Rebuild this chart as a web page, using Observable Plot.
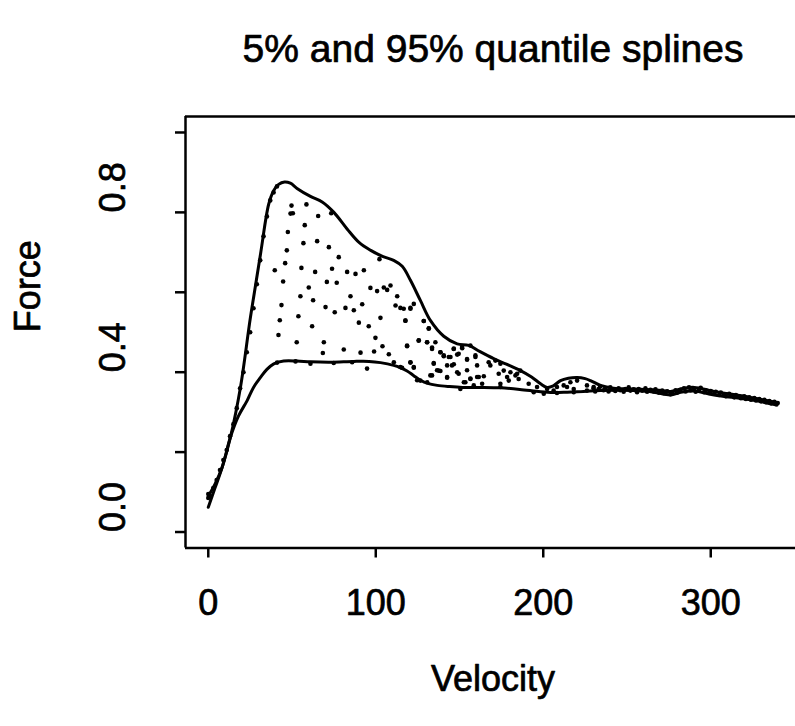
<!DOCTYPE html>
<html><head><meta charset="utf-8">
<script src="https://cdn.jsdelivr.net/npm/d3@7"></script>
<script src="https://cdn.jsdelivr.net/npm/@observablehq/plot@0.6"></script>
<style>body{margin:0;background:#fff}</style>
</head><body><div id="chart"></div>
<script>
const titleText = "5% and 95% quantile splines";
const xLabel = "Velocity";
const yLabel = "Force";
const xTicks = [0, 100, 200, 300];
const xTickLabels = ["0", "100", "200", "300"];
const yTicks = [0, 0.2, 0.4, 0.6, 0.8, 1.0];
const yLabelTicks = [0, 0.4, 0.8];
const yTickLabels = ["0.0", "0.4", "0.8"];
const xDomain = [-13.6, 350.6];
const yDomain = [-0.04, 1.04];

// 95% quantile spline [velocity, force]
const upperSpline = [
  [0,0.062],[4,0.11],[8.3,0.162],[13.2,0.237],[19.2,0.362],[25.2,0.538],[31.2,0.696],
  [36.1,0.821],[39.1,0.855],[42,0.870],[45.5,0.876],[49,0.873],[53,0.860],[61,0.840],
  [68,0.826],[75,0.800],[83,0.758],[90,0.725],[97,0.705],[104,0.690],[110.7,0.680],
  [115.8,0.665],[120.7,0.630],[126.7,0.579],[132.7,0.529],[140.6,0.490],[148.6,0.471],
  [155.5,0.467],[162,0.452],[170.4,0.434],[178,0.420],[186.4,0.404],[193,0.388],
  [198.4,0.371],[202.3,0.362],[206,0.366],[210.3,0.379],[215,0.385],[220.2,0.387],
  [225,0.384],[228.2,0.379],[234.2,0.367],[242,0.360],[254,0.358],[266,0.356],
  [276,0.352],[282,0.358],[290,0.362],[302,0.352],[323.7,0.337],[339.6,0.324]
];
// 5% quantile spline
const lowerSpline = [
  [0,0.09],[4,0.12],[8.3,0.162],[13.2,0.237],[18,0.29],[23.2,0.329],[27,0.362],
  [31.2,0.387],[35,0.407],[39.1,0.421],[45,0.428],[53,0.428],[61,0.426],[73,0.425],
  [87,0.427],[96,0.427],[102.8,0.424],[110.7,0.417],[114.8,0.411],[118.7,0.403],
  [122.5,0.392],[126.7,0.380],[131,0.372],[136.7,0.367],[144,0.364],[152,0.362],
  [162.5,0.362],[174.5,0.361],[186,0.357],[198.4,0.351],[206,0.349],[214.3,0.350],
  [224,0.352],[234.2,0.354],[242,0.355],[254,0.354],[266,0.350],[276,0.343],
  [282,0.350],[290,0.353],[302,0.343],[323.7,0.331],[339.6,0.318]
];
// observations
const observations = [
  [0,0.085],[0,0.095],[1,0.09],[3,0.11],[5,0.13],[7,0.155],[9,0.18],[11,0.205],[13,0.24],
  [15,0.27],[17,0.31],[19,0.36],[21,0.40],[23,0.45],[25,0.50],[27,0.56],[29,0.62],[31,0.68],
  [33,0.74],[35,0.79],[37,0.83],[39,0.85],[41,0.865],
  [49.7,0.817],[58.6,0.820],[49.1,0.797],[50.5,0.798],[65.6,0.791],[73.4,0.798],[57.6,0.768],
  [47.5,0.751],[65.0,0.728],[56.8,0.723],[72.0,0.713],[46.9,0.705],[77.9,0.688],[102.2,0.683],
  [45.9,0.673],[39.7,0.655],[55.6,0.661],[63.8,0.651],[73.9,0.659],[82.9,0.651],[87.9,0.646],
  [92.9,0.655],[44.7,0.627],[70.8,0.626],[76.7,0.624],[60.0,0.612],[96.8,0.611],[100.8,0.603],
  [104.8,0.612],[106.8,0.606],[108.8,0.617],[55.0,0.590],[62.6,0.580],[84.9,0.590],[112.8,0.590],
  [43.7,0.568],[70.0,0.563],[75.5,0.550],[81.9,0.561],[86.9,0.555],[91.9,0.570],[111.8,0.567],
  [114.7,0.561],[120.7,0.561],[122.7,0.571],[42.7,0.530],[53.8,0.540],[62.0,0.515],[89.9,0.524],
  [95.8,0.515],[102.8,0.536],[117.7,0.529],[128.7,0.528],[131.7,0.510],[41.9,0.493],[99.8,0.486],
  [52.8,0.475],[69.0,0.475],[125.7,0.480],[130.7,0.475],[135.6,0.475],[80.9,0.457],[68.4,0.448],
  [90.9,0.449],[99.0,0.452],[104.0,0.465],[107.8,0.445],[118.7,0.465],[133.6,0.462],[138.6,0.450],
  [140.6,0.440],[143.6,0.438],[146.6,0.459],[148.6,0.444],[151.6,0.460],[156.5,0.467],[154.5,0.431],
  [159.5,0.442],[110.8,0.425],[120.7,0.424],[114.7,0.413],[122.7,0.411],[94.8,0.409],[134.6,0.421],
  [136.6,0.405],[138.6,0.403],[142.6,0.417],[146.6,0.420],[148.6,0.400],[154.5,0.405],[160.5,0.417],
  [124.7,0.380],[130.7,0.375],[142.6,0.386],[152.6,0.375],[156.5,0.384],[160.5,0.388],[132.6,0.392],
  [41.1,0.424],[52.1,0.427],[61.0,0.421],[74.9,0.423],[85.9,0.425],
  [116.7,0.559],[120.7,0.559],[117.7,0.529],[128.6,0.528],[131.6,0.509],[118.7,0.467],[125.6,0.479],
  [130.6,0.475],[133.6,0.458],[120.7,0.425],[122.7,0.413],[115.7,0.411],[138.6,0.450],[140.6,0.442],
  [146.5,0.458],[151.5,0.463],[149.5,0.446],[154.5,0.433],[159.5,0.438],[144.6,0.438],[134.6,0.423],
  [137.6,0.404],[145.5,0.417],[149.5,0.396],[142.6,0.388],[133.6,0.392],[156.5,0.383],[161.5,0.388],
  [164.5,0.390],[153.5,0.375],[158.5,0.367],[163.5,0.371],[167.4,0.425],[171.4,0.429],[174.4,0.421],
  [168.4,0.417],[176.4,0.404],[180.4,0.400],[183.4,0.392],[178.4,0.388],[185.3,0.383],[184.4,0.396],
  [186.3,0.404],[173.4,0.396],[179.4,0.379],[174.4,0.371],[191.3,0.371],[196.3,0.363],[202.3,0.358],
  [208.2,0.363],[212.2,0.367],[216.2,0.375],[220.2,0.379],[226.1,0.367],[230.1,0.363],[214.2,0.363],
  [218.2,0.358],[206.2,0.354],[126.6,0.379],[150.5,0.358],[174.4,0.363],[194.3,0.350],[200.3,0.346],
  [208.2,0.348],[218.2,0.350],[226.1,0.354],
  [230,0.360],[231,0.352],[233,0.358],[234,0.364],[236,0.355],[237,0.360],[239,0.352],[240,0.362],
  [242,0.357],[243,0.353],[245,0.360],[246,0.355],[248,0.351],[249,0.358],[251,0.362],[252,0.354],
  [254,0.357],[256,0.350],[257,0.358],[259,0.354],[261,0.360],[262,0.351],[264,0.356],[266,0.352],
  [267,0.357],[269,0.349],[271,0.354],[272,0.348],[274,0.352],[276,0.345],[277,0.350],[279,0.355],
  [280,0.349],[282,0.356],[284,0.360],[285,0.352],[287,0.362],[288,0.355],[290,0.359],[291,0.351],
  [293,0.357],[294,0.361],[296,0.350],[297,0.355],[299,0.348],[300,0.353],[302,0.346],[303,0.351],
  [305,0.343],[306,0.349],[308,0.344],[309,0.340],[311,0.346],[312,0.341],[314,0.337],[315,0.343],
  [317,0.339],[318,0.335],[320,0.340],[321,0.333],[323,0.337],[324,0.331],[326,0.335],[327,0.329],
  [329,0.333],[330,0.327],[332,0.331],[333,0.325],[335,0.328],[336,0.322],[338,0.326],[339,0.320],
  [340,0.323]
];

const font = "'Liberation Sans', Arial, Helvetica, sans-serif";
const ink = {fill: "#000", stroke: "#000", strokeWidth: 0.7};
const chart = Plot.plot({
  width: 795, height: 726,
  marginLeft: 185, marginRight: 0, marginTop: 116, marginBottom: 178.5,
  style: {fontFamily: font, background: "#fff", color: "#000"},
  x: {domain: xDomain},
  y: {domain: yDomain},
  marks: [
    Plot.ruleX([xDomain[0]], {stroke: "#000", strokeWidth: 2.5}),
    Plot.ruleY([yDomain[0], yDomain[1]], {stroke: "#000", strokeWidth: 2.5}),
    Plot.axisY({ticks: yTicks, tickSize: 10, tickFormat: () => "", label: null, strokeWidth: 2.5}),
    Plot.axisX({ticks: xTicks, tickSize: 10, tickFormat: () => "", label: null, strokeWidth: 2.5}),
    Plot.text(yLabelTicks, {y: d => d, text: (d, i) => yTickLabels[i], frameAnchor: "left", dx: -72, rotate: -90, fontSize: 36, ...ink}),
    Plot.text(xTicks, {x: d => d, text: (d, i) => xTickLabels[i], frameAnchor: "bottom", dy: 67, fontSize: 36, ...ink}),
    Plot.text([xLabel], {frameAnchor: "bottom", dx: 2.5, dy: 143, fontSize: 36, ...ink}),
    Plot.text([yLabel], {frameAnchor: "left", dx: -157, rotate: -90, fontSize: 36, ...ink}),
    Plot.text([titleText], {frameAnchor: "top", dx: 2.5, dy: -82, fontSize: 39, ...ink}),
    Plot.dot(observations, {x: d => d[0], y: d => d[1], r: 2.3, fill: "#000"}),
    Plot.line(upperSpline, {x: d => d[0], y: d => d[1], curve: "catmull-rom", stroke: "#000", strokeWidth: 3}),
    Plot.line(lowerSpline, {x: d => d[0], y: d => d[1], curve: "catmull-rom", stroke: "#000", strokeWidth: 3})
  ]
});
document.getElementById("chart").appendChild(chart);
</script>
</body></html>
